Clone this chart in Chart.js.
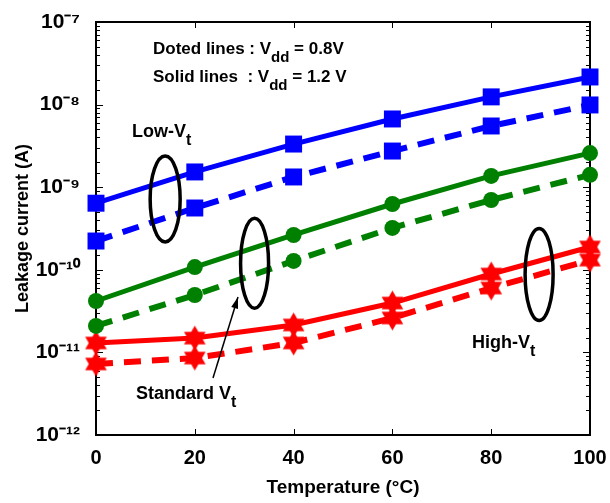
<!DOCTYPE html>
<html>
<head>
<meta charset="utf-8">
<script src="https://cdn.jsdelivr.net/npm/chart.js@4.4.0/dist/chart.umd.min.js"></script>
<style>html,body{margin:0;padding:0;background:#fff;}</style>
</head>
<body>
<canvas id="myChart" width="610" height="503"></canvas>
<script>
// temperatures (deg C)
const temps = [0, 20, 40, 60, 80, 100];
// leakage current (A), solid = Vdd 1.2V, dashed = Vdd 0.8V
const lowVt12 = [6.4e-10, 1.53e-9, 3.33e-9, 6.7e-9, 1.24e-8, 2.16e-8];
const lowVt08 = [2.23e-10, 5.6e-10, 1.33e-9, 2.74e-9, 5.51e-9, 9.9e-9];
const stdVt12 = [4.19e-11, 1.08e-10, 2.64e-10, 6.26e-10, 1.37e-9, 2.59e-9];
const stdVt08 = [2.09e-11, 4.95e-11, 1.28e-10, 3.21e-10, 7.0e-10, 1.41e-9];
const highVt12 = [1.3e-11, 1.49e-11, 2.15e-11, 3.96e-11, 8.89e-11, 1.89e-10];
const highVt08 = [7.24e-12, 8.55e-12, 1.3e-11, 2.61e-11, 6.02e-11, 1.31e-10];
const xTicks = [0, 20, 40, 60, 80, 100];
const yDecades = [1e-12, 1e-11, 1e-10, 1e-9, 1e-8, 1e-7];

const FONT = '"Liberation Sans", Arial, sans-serif';
const BLUE = 'rgb(0,0,255)';
const GREEN = 'rgb(0,128,0)';
const RED = 'rgb(255,0,0)';

// filled six-point star like matlab hexagram
function hexagram(r, color) {
    const c = document.createElement('canvas');
    const s = Math.ceil(r * 2 + 2);
    c.width = s; c.height = s;
    const g = c.getContext('2d');
    g.fillStyle = color;
    const cx = s / 2, cy = s / 2;
    for (let k = 0; k < 2; k++) {
        g.beginPath();
        for (let i = 0; i < 3; i++) {
            const a = -Math.PI / 2 + k * Math.PI + i * 2 * Math.PI / 3;
            const px = cx + r * Math.cos(a), py = cy + r * Math.sin(a);
            if (i == 0) g.moveTo(px, py); else g.lineTo(px, py);
        }
        g.closePath();
        g.fill();
    }
    return c;
}
const star = hexagram(12.5, RED);

function pts(arr) {
    return temps.map((t, i) => ({x: t, y: arr[i]}));
}

const sup = {'-': '\u207B', '0': '\u2070', '1': '\u00B9', '2': '\u00B2', '3': '\u00B3', '4': '\u2074',
    '5': '\u2075', '6': '\u2076', '7': '\u2077', '8': '\u2078', '9': '\u2079'};
function isDecade(v) {
    const l = Math.log10(v);
    return Math.abs(l - Math.round(l)) < 1e-6;
}

function ds(arr, color, dashed, style, radius) {
    return {
        data: pts(arr),
        borderColor: color,
        backgroundColor: color,
        borderWidth: dashed ? 6 : 5,
        borderDash: dashed ? [17, 11] : [],
        pointStyle: style,
        pointRadius: radius,
        pointBorderWidth: 0,
        pointBackgroundColor: color,
        tension: 0,
        clip: false
    };
}

// axes box and inward tick marks
const boxPlugin = {
    id: 'box',
    beforeDatasetsDraw(chart) {
        const ctx = chart.ctx, a = chart.chartArea;
        const x = chart.scales.x, y = chart.scales.y;
        ctx.save();
        ctx.strokeStyle = '#000';
        ctx.lineWidth = 1;
        y.ticks.forEach(t => {
            const py = Math.round(y.getPixelForValue(t.value)) + 0.5;
            const len = isDecade(t.value) ? 7 : 4;
            ctx.beginPath();
            ctx.moveTo(a.left, py); ctx.lineTo(a.left + len, py);
            ctx.moveTo(a.right, py); ctx.lineTo(a.right - len, py);
            ctx.stroke();
        });
        xTicks.forEach(v => {
            const px = Math.round(x.getPixelForValue(v)) + 0.5;
            ctx.beginPath();
            ctx.moveTo(px, a.top); ctx.lineTo(px, a.top + 6);
            ctx.moveTo(px, a.bottom); ctx.lineTo(px, a.bottom - 6);
            ctx.stroke();
        });
        ctx.lineWidth = 2;
        ctx.strokeRect(a.left, a.top, a.right - a.left, a.bottom - a.top);
        ctx.restore();
    }
};

// text with subscripts, ellipses and arrow
function subText(ctx, x, y, parts, size) {
    let cx = x;
    parts.forEach(p => {
        ctx.font = 'bold ' + (p.sub ? size - 2 : size) + 'px ' + FONT;
        ctx.fillText(p.t, cx, p.sub ? y + 8 : y);
        cx += ctx.measureText(p.t).width;
    });
}
const notePlugin = {
    id: 'notes',
    afterDatasetsDraw(chart) {
        const ctx = chart.ctx;
        const x = chart.scales.x, y = chart.scales.y;
        const X = v => x.getPixelForValue(v), Y = v => y.getPixelForValue(v);
        ctx.save();
        ctx.fillStyle = '#000';
        ctx.textBaseline = 'alphabetic';
        subText(ctx, 153, 54, [{t: 'Doted lines : V'}, {t: 'dd', sub: true}, {t: ' = 0.8V'}], 17);
        subText(ctx, 153, 82, [{t: 'Solid lines  : V'}, {t: 'dd', sub: true}, {t: ' = 1.2 V'}], 17);
        subText(ctx, 132, 137, [{t: 'Low-V'}, {t: 't', sub: true}], 18);
        subText(ctx, 136, 399, [{t: 'Standard V'}, {t: 't', sub: true}], 18);
        subText(ctx, 472, 348, [{t: 'High-V'}, {t: 't', sub: true}], 18);

        ctx.strokeStyle = '#000';
        ctx.lineWidth = 3.5;
        [[14, 7.2e-10, 15, 43], [32.1, 1.2e-10, 14, 45], [89.7, 8.8e-11, 14, 46]].forEach(e => {
            ctx.beginPath();
            ctx.ellipse(X(e[0]), Y(e[1]), e[2], e[3], 0, 0, Math.PI * 2);
            ctx.stroke();
        });
        // arrow to standard Vt ellipse
        const x1 = 213, y1 = 378, x2 = 238, y2 = 297;
        ctx.lineWidth = 1.5;
        ctx.beginPath();
        ctx.moveTo(x1, y1); ctx.lineTo(x2, y2);
        ctx.stroke();
        const ang = Math.atan2(y2 - y1, x2 - x1);
        ctx.beginPath();
        ctx.moveTo(x2, y2);
        ctx.lineTo(x2 - 12 * Math.cos(ang - 0.3), y2 - 12 * Math.sin(ang - 0.3));
        ctx.lineTo(x2 - 12 * Math.cos(ang + 0.3), y2 - 12 * Math.sin(ang + 0.3));
        ctx.closePath();
        ctx.fill();
        ctx.restore();
    }
};

const ctx = document.getElementById('myChart').getContext('2d');
const chart = new Chart(ctx, {
    type: 'line',
    data: {
        datasets: [
            ds(lowVt12, BLUE, false, 'rect', 12),
            ds(lowVt08, BLUE, true, 'rect', 12),
            ds(stdVt12, GREEN, false, 'circle', 8),
            ds(stdVt08, GREEN, true, 'circle', 8),
            ds(highVt12, RED, false, star, 12),
            ds(highVt08, RED, true, star, 12)
        ]
    },
    options: {
        responsive: false,
        animation: false,
        events: [],
        layout: {padding: {top: 22, right: 20, left: 0, bottom: 0}},
        plugins: {legend: {display: false}, tooltip: {enabled: false}},
        scales: {
            x: {
                type: 'linear',
                min: 0, max: 100,
                afterFit: s => { s.height = 68; s.paddingRight = 0; s.paddingLeft = 0; },
                afterBuildTicks: s => { s.ticks = xTicks.map(v => ({value: v})); },
                grid: {display: false},
                border: {display: false},
                ticks: {color: '#000', font: {family: FONT, size: 20, weight: 'bold'}, padding: 3, maxRotation: 0},
                title: {display: true, text: 'Temperature (\u00B0C)', color: '#000',
                    font: {family: FONT, size: 19, weight: 'bold'}, padding: {top: 0, bottom: 4}}
            },
            y: {
                type: 'logarithmic',
                min: yDecades[0], max: yDecades[yDecades.length - 1],
                afterFit: s => { s.width = 96; },
                grid: {display: false},
                border: {display: false},
                ticks: {
                    color: '#000', autoSkip: false, padding: 8,
                    font: {family: FONT, size: 21, weight: 'bold'},
                    callback: v => {
                        if (!isDecade(v)) return '';
                        const e = String(Math.round(Math.log10(v)));
                        return '10' + e.split('').map(c => sup[c]).join('');
                    }
                },
                title: {display: true, text: 'Leakage current (A)', color: '#000',
                    font: {family: FONT, size: 18, weight: 'bold'}, padding: {top: 12, bottom: 0}}
            }
        }
    },
    plugins: [boxPlugin, notePlugin]
});
</script>
</body>
</html>
